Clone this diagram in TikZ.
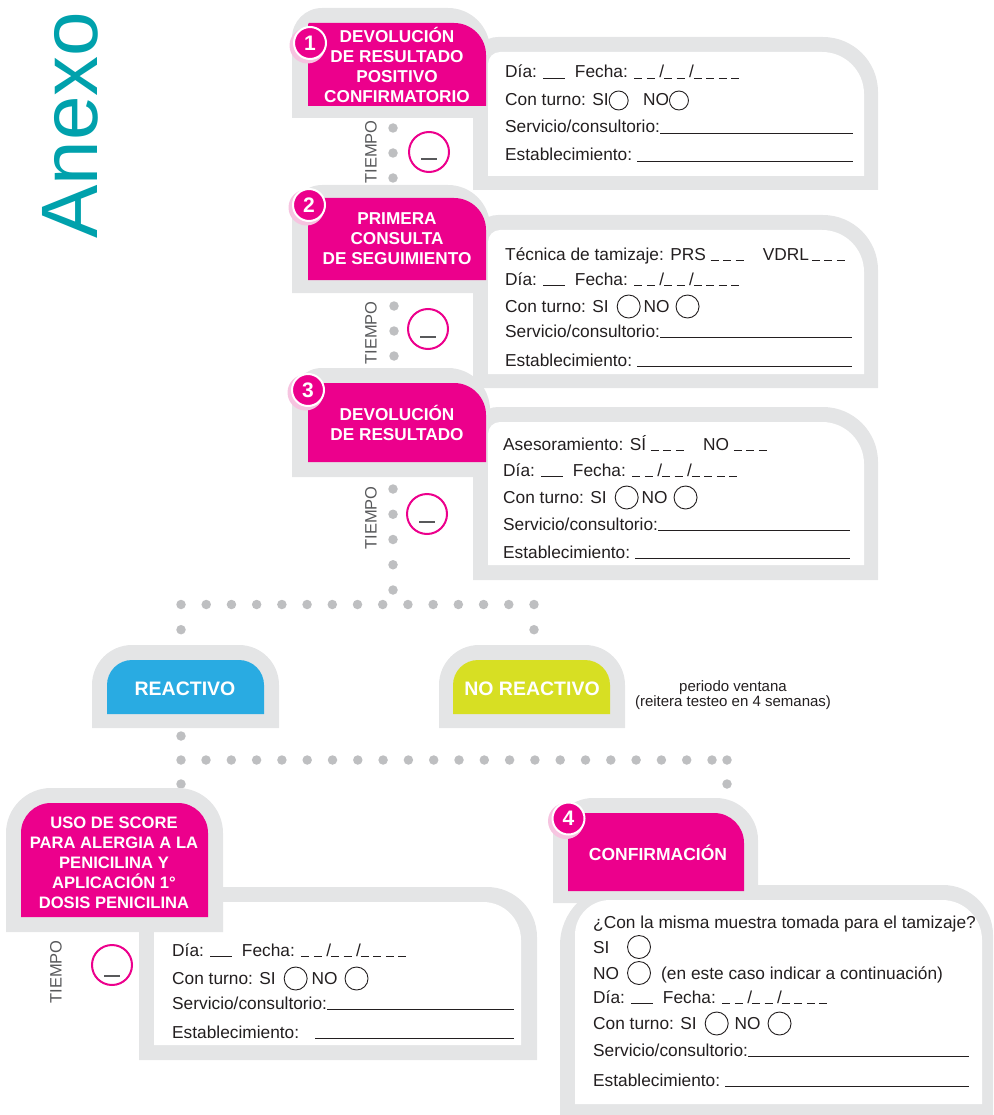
\documentclass[tikz,border=0pt]{standalone}
\usepackage{fontspec}
\setmainfont{Liberation Sans}
\usetikzlibrary{calc}
\definecolor{mag}{RGB}{236,0,140}
\definecolor{panelgrey}{RGB}{228,229,230}
\definecolor{dotgrey}{RGB}{190,191,193}
\definecolor{rblue}{RGB}{41,171,226}
\definecolor{nrgreen}{RGB}{215,223,35}
\definecolor{tealx}{RGB}{0,161,172}
\definecolor{ink}{RGB}{35,31,32}
\definecolor{tgrey}{RGB}{88,89,91}
\definecolor{badgeshadow}{RGB}{246,196,224}
\newcommand\formfont{\fontsize{17.3}{20}\selectfont}
\newcommand\headfont{\fontsize{17.2}{20}\selectfont\bfseries}
\newcommand\confont{\fontsize{17.5}{20}\selectfont\bfseries}
\newcommand\scorefont{\fontsize{16.6}{20}\selectfont\bfseries}
\newcommand\reacfont{\fontsize{19.5}{22}\selectfont\bfseries}
\newcommand\tiempofont{\fontsize{16.5}{18}\selectfont}
\newcommand\badgefont{\fontsize{21}{22}\selectfont\bfseries}
\newcommand\smallfont{\fontsize{15}{15}\selectfont}
\newcommand\anexofont{\fontsize{80}{80}\selectfont}
\newcommand\blank{\rule[-0.6pt]{22pt}{1pt}}
\newcommand\us{\rule[-0.6pt]{8pt}{0.9pt}}
\newcommand\ug{\hspace{4.5pt}}
\newcommand\fecha{\us\ug\us\ug/\us\ug\us\ug/\us\ug\us\ug\us\ug\us}
\newcommand\oc[1][11.5]{\tikz[baseline=-5.5pt]\draw[line width=0.9pt,ink] (0,0) circle[radius=#1pt];}
% x1, ytop, x2, ybottom, radius top-left, radius top-right (pixel coords, y downwards)
\newcommand\tabshape[6]{(#1,-#4) -- (#1,-#2-#5) arc[start angle=180,end angle=90,radius=#5] -- (#3-#6,-#2) arc[start angle=90,end angle=0,radius=#6] -- (#3,-#4) -- cycle}
\tikzset{
  headtxt/.style={text=white, font=\headfont, align=center, inner sep=0},
  formtxt/.style={anchor=base west, inner sep=0, font=\formfont, text=ink},
  fline/.style={draw=ink, line width=0.9pt},
  dotline/.style={dotgrey, line width=9.5pt, line cap=round, dash pattern=on 0pt off #1pt},
  dotline/.default=25,
  tiempo/.style={rotate=90, font=\tiempofont, text=tgrey, inner sep=0},
  tcirc/.style={circle, draw=mag, line width=2pt, minimum size=40pt, inner sep=0},
  tline/.style={draw=tgrey, line width=1.1pt},
  ocirc/.style={circle, draw=ink, line width=0.9pt, minimum size=23pt, inner sep=0},
  badge/.style={circle, fill=mag, draw=white, line width=2pt, minimum size=32pt, inner sep=0, text=white, font=\badgefont},
  shadowc/.style={badgeshadow},
}
\begin{document}
\begin{tikzpicture}[x=1pt,y=1pt]
\useasboundingbox (0,0) rectangle (993,-1115);

% ---------- dotted connectors ----------
\coordinate (d1a) at (393,-128); \coordinate (d1b) at (393,-178.3);
\draw[dotline=25] (d1a) -- (d1b);
\coordinate (d2a) at (394,-306); \coordinate (d2b) at (394,-356.3);
\draw[dotline=25] (d2a) -- (d2b);
\coordinate (d3a) at (393,-489); \coordinate (d3b) at (393,-590.3);
\draw[dotline=25.25] (d3a) -- (d3b);
\coordinate (ta) at (181,-629.7); \coordinate (tb) at (181,-604.5);
\coordinate (tc) at (534,-604.5); \coordinate (td) at (534,-630);
\draw[dotline=25.2125] (ta) -- (tb) -- (tc) -- (td);
\coordinate (la) at (181,-736); \coordinate (lb) at (181,-784.3);
\draw[dotline=24] (la) -- (lb);
\coordinate (lc) at (206,-760); \coordinate (ld) at (712.3,-760);
\draw[dotline=25.3] (lc) -- (ld);
\coordinate (le) at (727,-760); \coordinate (lf) at (727,-784.3);
\draw[dotline=24] (le) -- (lf);

% ---------- Anexo ----------
\node[rotate=90, font=\anexofont, text=tealx, inner sep=0] (anexo) at (70,-125) {Anexo};

% ---------- Box 1 ----------
\fill[panelgrey] \tabshape{473}{37}{878}{190}{25}{55};
\fill[panelgrey] \tabshape{292}{8}{490}{118}{30}{42};
\fill[white] \tabshape{488}{52}{864}{176}{12}{42};
\fill[mag] \tabshape{308}{23}{486}{106}{1}{32};
\fill[shadowc] (307.5,-45.5) circle[radius=18];
\node[badge] (b1) at (310,-43) {1};
\node[headtxt] (h1) at (397,-65) {DEVOLUCIÓN\\DE RESULTADO\\POSITIVO\\CONFIRMATORIO};
\node[formtxt] (f1a) at (505,-78) {Día: \blank\ \ Fecha: \fecha};
\node[formtxt] (f1b) at (505,-106) {Con turno: SI\oc[9.5]\ \ \ NO\oc[9.5]};
\node[formtxt] (f1c) at (505,-133) {Servicio/consultorio:};
\node[formtxt] (f1d) at (505,-161) {Establecimiento:};
\coordinate (e1) at (853,0);
\draw[fline] (f1c.base east) -- (f1c.base east -| e1);
\draw[fline] ([xshift=5pt]f1d.base east) -- (f1d.base east -| e1);
\node[tiempo] (tm1) at (371,-152) {TIEMPO};
\node[tcirc] (tc1) at (429,-152) {};
\draw[tline] ($(tc1.center)+(-8,-7)$) -- ($(tc1.center)+(8,-7)$);

% ---------- Box 2 ----------
\fill[panelgrey] \tabshape{473}{215}{878}{388}{25}{55};
\fill[panelgrey] \tabshape{292}{185}{490}{293}{30}{42};
\fill[white] \tabshape{488}{230}{864}{374}{12}{42};
\fill[mag] \tabshape{308}{198}{486}{280}{1}{32};
\fill[shadowc] (306.5,-207.5) circle[radius=18];
\node[badge] (b2) at (309,-205) {2};
\node[headtxt] (h2) at (397,-239) {PRIMERA\\CONSULTA\\DE SEGUIMIENTO};
\node[formtxt] (f2t) at (505,-260) {Técnica de tamizaje: PRS \us\ug\us\ug\us\ \ \ \ VDRL\,\us\ug\us\ug\us};
\node[formtxt] (f2a) at (505,-285) {Día: \blank\ \ Fecha: \fecha};
\node[formtxt] (f2b) at (505,-312) {Con turno: SI\hspace{8pt}\oc\hspace{3pt}NO\hspace{6pt}\oc};
\node[formtxt] (f2c) at (505,-337) {Servicio/consultorio:};
\node[formtxt] (f2d) at (505,-366) {Establecimiento:};
\coordinate (e2) at (852,0);
\draw[fline] (f2c.base east) -- (f2c.base east -| e2);
\draw[fline] ([xshift=5pt]f2d.base east) -- (f2d.base east -| e2);
\node[tiempo] (tm2) at (371,-333) {TIEMPO};
\node[tcirc] (tc2) at (428,-329) {};
\draw[tline] ($(tc2.center)+(-8,-8)$) -- ($(tc2.center)+(8,-8)$);

% ---------- Box 3 ----------
\fill[panelgrey] \tabshape{473}{407}{878}{580}{25}{55};
\fill[panelgrey] \tabshape{292}{368}{490}{477}{30}{42};
\fill[white] \tabshape{488}{422}{864}{565}{12}{42};
\fill[mag] \tabshape{308}{383}{486}{462}{1}{32};
\fill[shadowc] (305.5,-392.5) circle[radius=18];
\node[badge] (b3) at (308,-390) {3};
\node[headtxt] (h3) at (397,-423) {DEVOLUCIÓN\\DE RESULTADO};
\node[formtxt] (f3t) at (503,-450) {Asesoramiento: SÍ \us\ug\us\ug\us\ \ \ \ NO \us\ug\us\ug\us};
\node[formtxt] (f3a) at (503,-476) {Día: \blank\ \ Fecha: \fecha};
\node[formtxt] (f3b) at (503,-503) {Con turno: SI\hspace{8pt}\oc\hspace{3pt}NO\hspace{6pt}\oc};
\node[formtxt] (f3c) at (503,-530) {Servicio/consultorio:};
\node[formtxt] (f3d) at (503,-558) {Establecimiento:};
\coordinate (e3) at (850,0);
\draw[fline] (f3c.base east) -- (f3c.base east -| e3);
\draw[fline] ([xshift=5pt]f3d.base east) -- (f3d.base east -| e3);
\node[tiempo] (tm3) at (371,-518) {TIEMPO};
\node[tcirc] (tc3) at (427,-514) {};
\draw[tline] ($(tc3.center)+(-8,-8)$) -- ($(tc3.center)+(8,-8)$);

% ---------- Reactivo / No reactivo ----------
\fill[panelgrey] \tabshape{92}{645}{279}{728}{40}{40};
\fill[rblue] \tabshape{107}{660}{264}{714}{25}{25};
\node[headtxt, font=\reacfont] (rea) at (185,-689) {REACTIVO};
\fill[panelgrey] \tabshape{439}{645}{625}{728}{40}{40};
\fill[nrgreen] \tabshape{453}{660}{610}{714}{25}{25};
\node[headtxt, font=\reacfont] (nrea) at (532,-689) {NO REACTIVO};
\node[font=\smallfont, align=center, inner sep=0, text=ink] (pv) at (733,-695) {periodo ventana\\(reitera testeo en 4 semanas)};

% ---------- Score box ----------
\fill[panelgrey] \tabshape{139}{887}{537}{1060}{1}{50};
\fill[white] \tabshape{154}{902}{521}{1045}{1}{38};
\fill[panelgrey] \tabshape{6}{788}{223}{932}{45}{45};
\fill[mag] \tabshape{21}{803}{208}{917}{30}{30};
\node[headtxt, font=\scorefont] (h5) at (114,-863) {USO DE SCORE\\PARA ALERGIA A LA\\PENICILINA Y\\APLICACIÓN 1°\\DOSIS PENICILINA};
\node[formtxt] (f5a) at (172,-956) {Día: \blank\ \ Fecha: \fecha};
\node[formtxt] (f5b) at (172,-984) {Con turno: SI\hspace{8pt}\oc\hspace{4pt}NO\hspace{7pt}\oc};
\node[formtxt] (f5c) at (172,-1009) {Servicio/consultorio:};
\node[formtxt] (f5d) at (172,-1038) {Establecimiento:};
\coordinate (e5) at (514,0);
\draw[fline] (f5c.base east) -- (f5c.base east -| e5);
\draw[fline] ([xshift=16pt]f5d.base east) -- (f5d.base east -| e5);
\node[tiempo] (tm5) at (56,-972) {TIEMPO};
\node[tcirc] (tc5) at (112,-965) {};
\draw[tline] ($(tc5.center)+(-8,-11)$) -- ($(tc5.center)+(8,-11)$);

% ---------- Confirmacion ----------
\fill[panelgrey] \tabshape{560}{885}{993}{1115}{60}{50};
\fill[panelgrey] \tabshape{553}{798}{758}{903}{40}{42};
\fill[white] \tabshape{575}{900}{982}{1104}{35}{40};
\fill[mag] \tabshape{568}{813}{744}{891}{1}{30};
\fill[shadowc] (566,-821) circle[radius=18];
\node[badge] (b4) at (568.5,-818.5) {4};
\node[headtxt, font=\confont] (h4) at (658,-853) {CONFIRMACIÓN};
\node[formtxt] (f4q) at (593,-928) {¿Con la misma muestra tomada para el tamizaje?};
\node[formtxt] (f4s) at (593,-953) {SI};
\node[ocirc] (c4s) at (639,-947) {};
\node[formtxt] (f4n) at (593,-979) {NO};
\node[ocirc] (c4n) at (639,-973) {};
\node[formtxt] (f4x) at (661,-979) {(en este caso indicar a continuación)};
\node[formtxt] (f4a) at (593,-1003) {Día: \blank\ \ Fecha: \fecha};
\node[formtxt] (f4b) at (593,-1029) {Con turno: SI\hspace{8pt}\oc\hspace{6pt}NO\hspace{7pt}\oc};
\node[formtxt] (f4c) at (593,-1056) {Servicio/consultorio:};
\node[formtxt] (f4d) at (593,-1086) {Establecimiento:};
\coordinate (e4) at (969,0);
\draw[fline] (f4c.base east) -- (f4c.base east -| e4);
\draw[fline] ([xshift=5pt]f4d.base east) -- (f4d.base east -| e4);
\end{tikzpicture}
\end{document}
